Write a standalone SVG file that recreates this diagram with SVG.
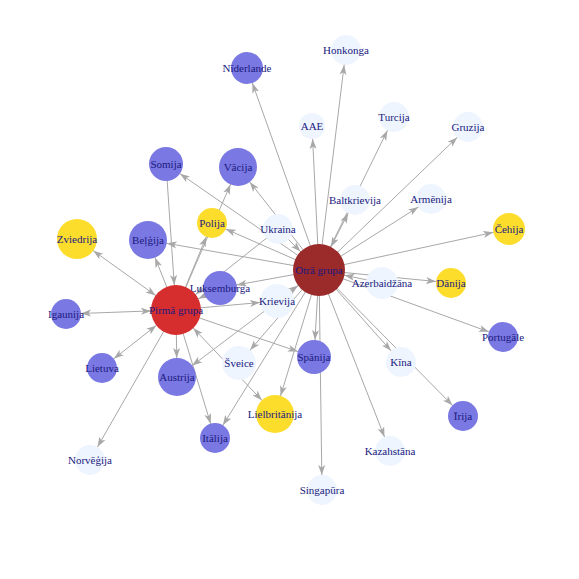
<svg xmlns="http://www.w3.org/2000/svg" width="579" height="579" viewBox="0 0 579 579">
<style>
.e{stroke:#a8a8a8;stroke-width:1;fill:none}
.b{fill:#7a78e2}
.y{fill:#fddd2c}
.p{fill:#eef5fe}
.r1{fill:#d62e2e}
.r2{fill:#9b2a2a}
text{font-family:"Liberation Serif","DejaVu Serif",serif;font-size:11px;fill:#1a1a80;text-anchor:middle}
</style>
<defs>
<path id="ah" d="M0,0.5 L10,4 L0,7.5 L2.5,4Z" fill="#a8a8a8"/>
<marker id="t13" markerUnits="userSpaceOnUse" markerWidth="10" markerHeight="8" refX="23" refY="4" orient="auto"><use href="#ah"/></marker>
<marker id="t15" markerUnits="userSpaceOnUse" markerWidth="10" markerHeight="8" refX="25" refY="4" orient="auto"><use href="#ah"/></marker>
<marker id="t16" markerUnits="userSpaceOnUse" markerWidth="10" markerHeight="8" refX="26" refY="4" orient="auto"><use href="#ah"/></marker>
<marker id="t17" markerUnits="userSpaceOnUse" markerWidth="10" markerHeight="8" refX="27" refY="4" orient="auto"><use href="#ah"/></marker>
<marker id="t19" markerUnits="userSpaceOnUse" markerWidth="10" markerHeight="8" refX="29" refY="4" orient="auto"><use href="#ah"/></marker>
<marker id="t20" markerUnits="userSpaceOnUse" markerWidth="10" markerHeight="8" refX="30" refY="4" orient="auto"><use href="#ah"/></marker>
<marker id="t25" markerUnits="userSpaceOnUse" markerWidth="10" markerHeight="8" refX="35" refY="4" orient="auto"><use href="#ah"/></marker>
<marker id="t26" markerUnits="userSpaceOnUse" markerWidth="10" markerHeight="8" refX="36" refY="4" orient="auto"><use href="#ah"/></marker>
<marker id="s25" markerUnits="userSpaceOnUse" markerWidth="10" markerHeight="8" refX="35" refY="4" orient="auto-start-reverse"><use href="#ah"/></marker>
<marker id="s26" markerUnits="userSpaceOnUse" markerWidth="10" markerHeight="8" refX="36" refY="4" orient="auto-start-reverse"><use href="#ah"/></marker>
</defs>
<rect width="579" height="579" fill="#ffffff"/>
<g id="edges">
<path class="e" d="M319,270 L247,68" marker-end="url(#t16)"/>
<path class="e" d="M319,270 L346,50" marker-end="url(#t15)"/>
<path class="e" d="M319,270 L312,126" marker-end="url(#t13)"/>
<path class="e" d="M319,270 L394,117" marker-end="url(#t15)"/>
<path class="e" d="M319,270 L468,127" marker-end="url(#t15)"/>
<path class="e" d="M319,270 L238,167" marker-end="url(#t19)"/>
<path class="e" d="M319,270 L166,164" marker-end="url(#t17)"/>
<path class="e" d="M319,270 L355,200" marker-start="url(#s26)" marker-end="url(#t15)"/>
<path class="e" d="M319,270 L431,199" marker-end="url(#t15)"/>
<path class="e" d="M319,270 L509,229" marker-end="url(#t16)"/>
<path class="e" d="M319,270 L212,223" marker-end="url(#t15)"/>
<path class="e" d="M319,270 L148,240" marker-end="url(#t19)"/>
<path class="e" d="M319,270 L451,283" marker-end="url(#t15)"/>
<path class="e" d="M319,270 L503,337" marker-end="url(#t15)"/>
<path class="e" d="M319,270 L401,362" marker-end="url(#t15)"/>
<path class="e" d="M319,270 L463,416" marker-end="url(#t15)"/>
<path class="e" d="M319,270 L390,451" marker-end="url(#t15)"/>
<path class="e" d="M319,270 L322,490" marker-end="url(#t15)"/>
<path class="e" d="M319,270 L314,357" marker-end="url(#t17)"/>
<path class="e" d="M319,270 L275,414" marker-end="url(#t19)"/>
<path class="e" d="M319,270 L215,438" marker-end="url(#t15)"/>
<path class="e" d="M319,270 L177,377" marker-end="url(#t19)"/>
<path class="e" d="M319,270 L239,363" marker-end="url(#t17)"/>
<path class="e" d="M319,270 L220,288" marker-end="url(#t17)"/>
<path class="e" d="M382,283 L319,270" marker-end="url(#t26)"/>
<path class="e" d="M278,229 L319,270" marker-end="url(#t26)"/>
<path class="e" d="M277,301 L319,270" marker-end="url(#t26)"/>
<path class="e" d="M176,310 L77,239" marker-start="url(#s25)" marker-end="url(#t20)"/>
<path class="e" d="M176,310 L66,314" marker-start="url(#s25)" marker-end="url(#t15)"/>
<path class="e" d="M176,310 L102,368" marker-start="url(#s25)" marker-end="url(#t15)"/>
<path class="e" d="M176,310 L275,414" marker-start="url(#s25)" marker-end="url(#t19)"/>
<path class="e" d="M176,310 L148,240" marker-end="url(#t19)"/>
<path class="e" d="M166,164 L176,310" marker-end="url(#t25)"/>
<path class="e" d="M176,310 L212,223" marker-end="url(#t15)"/>
<path class="e" d="M176,310 L238,167" marker-end="url(#t19)"/>
<path class="e" d="M220,288 L176,310" marker-end="url(#t25)"/>
<path class="e" d="M176,310 L277,301" marker-end="url(#t17)"/>
<path class="e" d="M176,310 L314,357" marker-end="url(#t17)"/>
<path class="e" d="M176,310 L177,377" marker-end="url(#t19)"/>
<path class="e" d="M176,310 L215,438" marker-end="url(#t15)"/>
<path class="e" d="M176,310 L90,460" marker-end="url(#t15)"/>
<path class="e" d="M278,229 L176,310" marker-end="url(#t25)"/>
</g>
<g id="n-niderlande"><circle class="b" cx="247" cy="68" r="16"/><text x="247" y="72">Nīderlande</text></g>
<g id="n-honkonga"><circle class="p" cx="346" cy="50" r="15"/><text x="346" y="54">Honkonga</text></g>
<g id="n-aae"><circle class="p" cx="312" cy="126" r="13"/><text x="312" y="130">AAE</text></g>
<g id="n-turcija"><circle class="p" cx="394" cy="117" r="15"/><text x="394" y="121">Turcija</text></g>
<g id="n-gruzija"><circle class="p" cx="468" cy="127" r="15"/><text x="468" y="131">Gruzija</text></g>
<g id="n-somija"><circle class="b" cx="166" cy="164" r="17"/><text x="166" y="168">Somija</text></g>
<g id="n-vacija"><circle class="b" cx="238" cy="167" r="19"/><text x="238" y="171">Vācija</text></g>
<g id="n-baltkrievija"><circle class="p" cx="355" cy="200" r="15"/><text x="355" y="204">Baltkrievija</text></g>
<g id="n-armenija"><circle class="p" cx="431" cy="199" r="15"/><text x="431" y="203">Armēnija</text></g>
<g id="n-polija"><circle class="y" cx="212" cy="223" r="15"/><text x="212" y="227">Polija</text></g>
<g id="n-ukraina"><circle class="p" cx="278" cy="229" r="15"/><text x="278" y="233">Ukraina</text></g>
<g id="n-cehija"><circle class="y" cx="509" cy="229" r="16"/><text x="509" y="233">Čehija</text></g>
<g id="n-zviedrija"><circle class="y" cx="77" cy="239" r="20"/><text x="77" y="243">Zviedrija</text></g>
<g id="n-belgija"><circle class="b" cx="148" cy="240" r="19"/><text x="148" y="244">Beļģija</text></g>
<g id="n-luksemburga"><circle class="b" cx="220" cy="288" r="17"/><text x="220" y="292">Luksemburga</text></g>
<g id="n-krievija"><circle class="p" cx="277" cy="301" r="17"/><text x="277" y="305">Krievija</text></g>
<g id="n-azerbaidzana"><circle class="p" cx="382" cy="283" r="16"/><text x="382" y="287">Azerbaidžāna</text></g>
<g id="n-danija"><circle class="y" cx="451" cy="283" r="15"/><text x="451" y="287">Dānija</text></g>
<g id="n-igaunija"><circle class="b" cx="66" cy="314" r="15"/><text x="66" y="318">Igaunija</text></g>
<g id="n-portugale"><circle class="b" cx="503" cy="337" r="15"/><text x="503" y="341">Portugāle</text></g>
<g id="n-spanija"><circle class="b" cx="314" cy="357" r="17"/><text x="314" y="361">Spānija</text></g>
<g id="n-sveice"><circle class="p" cx="239" cy="363" r="17"/><text x="239" y="367">Šveice</text></g>
<g id="n-lietuva"><circle class="b" cx="102" cy="368" r="15"/><text x="102" y="372">Lietuva</text></g>
<g id="n-austrija"><circle class="b" cx="177" cy="377" r="19"/><text x="177" y="381">Austrija</text></g>
<g id="n-kina"><circle class="p" cx="401" cy="362" r="15"/><text x="401" y="366">Kīna</text></g>
<g id="n-lielbritanija"><circle class="y" cx="275" cy="414" r="19"/><text x="275" y="418">Lielbritānija</text></g>
<g id="n-irija"><circle class="b" cx="463" cy="416" r="15"/><text x="463" y="420">Īrija</text></g>
<g id="n-italija"><circle class="b" cx="215" cy="438" r="15"/><text x="215" y="442">Itālija</text></g>
<g id="n-norvegija"><circle class="p" cx="90" cy="460" r="15"/><text x="90" y="464">Norvēģija</text></g>
<g id="n-kazahstana"><circle class="p" cx="390" cy="451" r="15"/><text x="390" y="455">Kazahstāna</text></g>
<g id="n-singapura"><circle class="p" cx="322" cy="490" r="15"/><text x="322" y="494">Singapūra</text></g>
<g id="n-pirma"><circle class="r1" cx="176" cy="310" r="25"/><text x="176" y="314">Pirmā grupa</text></g>
<g id="n-otra"><circle class="r2" cx="319" cy="270" r="26"/><text x="319" y="274">Otrā grupa</text></g>
</svg>
